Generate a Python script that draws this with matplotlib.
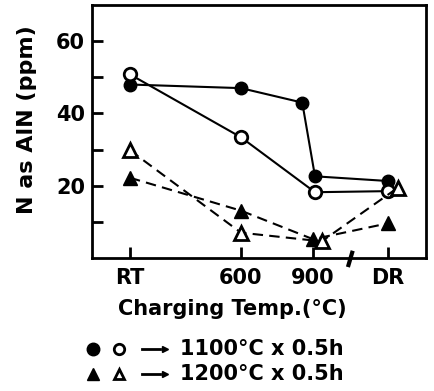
import matplotlib
matplotlib.use("Agg")
import matplotlib.pyplot as plt
from matplotlib.lines import Line2D

plt.rcParams['font.family'] = ['DejaVu Sans']
plt.rcParams['font.weight'] = 'bold'

# Data
tick_pos = [138, 600, 900, 1212]
tick_labels = ["RT", "600", "900", "DR"]

fc_x = [138, 600, 855, 908, 1212]          # filled circles, 1100C
fc_y = [48.0, 47.0, 43.0, 22.6, 21.3]
oc_x = [138, 600, 908, 1212]               # open circles, 1100C
oc_y = [50.8, 33.4, 18.2, 18.5]
ft_x = [138, 600, 900, 1212]               # filled triangles, 1200C
ft_y = [22.2, 13.1, 5.2, 9.6]
ot_x = [138, 600, 936, 1254]               # open triangles, 1200C
ot_y = [29.8, 7.0, 4.6, 19.5]

yticks = [10, 20, 30, 40, 50, 60]
ylabels = ["", "20", "", "40", "", "60"]

fig = plt.figure(figsize=(4.34, 3.91), dpi=100)
W, H = 434, 391
ax = fig.add_axes([92/W, 1 - 258/H, (426-92)/W, (258-5)/H])

lw = 1.5
ms = 9
ax.plot(fc_x, fc_y, '-', color='black', lw=lw, marker='o', ms=ms, mfc='black', mec='black', zorder=3)
ax.plot(oc_x, oc_y, '-', color='black', lw=lw, marker='o', ms=ms, mfc='white', mec='black', mew=2, zorder=3)
ax.plot(ft_x, ft_y, '--', color='black', lw=lw, marker='^', ms=ms+1, mfc='black', mec='black', zorder=3, dashes=(5, 3))
ax.plot(ot_x, ot_y, '--', color='black', lw=lw, marker='^', ms=ms+1, mfc='white', mec='black', mew=2, zorder=3, dashes=(5, 3))

ax.set_xlim(-20, 1370)
ax.set_ylim(0, 70)
ax.set_xticks(tick_pos)
ax.set_xticklabels(tick_labels)
ax.set_yticks(yticks)
ax.set_yticklabels(ylabels)
ax.tick_params(direction='in', length=8, width=2, labelsize=15)
ax.tick_params(axis='x', pad=7)
ax.tick_params(axis='y', pad=5)
for s in ax.spines.values():
    s.set_linewidth(2)

# axis break mark
ax.plot([1045, 1065], [-2.5, 2.0], color='black', lw=3, clip_on=False, solid_capstyle='butt', zorder=5)

ax.set_ylabel("N as AlN (ppm)", fontsize=16, fontweight='bold')
ax.yaxis.set_label_coords(-0.165, 0.545)
fig.text(232/W, 1 - 309/H, "Charging Temp.(°C)", fontsize=15, fontweight='bold', ha='center', va='center')

# legend block
def fy(y):
    return 1 - y/H
rows = [(349, 'o', "1100°C x 0.5h"), (374, '^', "1200°C x 0.5h")]
for y, m, txt in rows:
    fig.add_artist(Line2D([93/W], [fy(y)], marker=m, ms=9, mfc='black', mec='black', ls='none', transform=fig.transFigure))
    fig.add_artist(Line2D([119/W], [fy(y)], marker=m, ms=7.5, mfc='white', mec='black', mew=2, ls='none', transform=fig.transFigure))
    fig.add_artist(Line2D([142/W, 160/W], [fy(y), fy(y)], color='black', lw=2, transform=fig.transFigure))
    fig.add_artist(Line2D([165/W], [fy(y)], marker='>', ms=5, mfc='black', mec='black', ls='none', transform=fig.transFigure))
    fig.text(180/W, fy(y), txt, fontsize=15, fontweight='bold', ha='left', va='center')

fig.savefig("out.png", dpi=100)
